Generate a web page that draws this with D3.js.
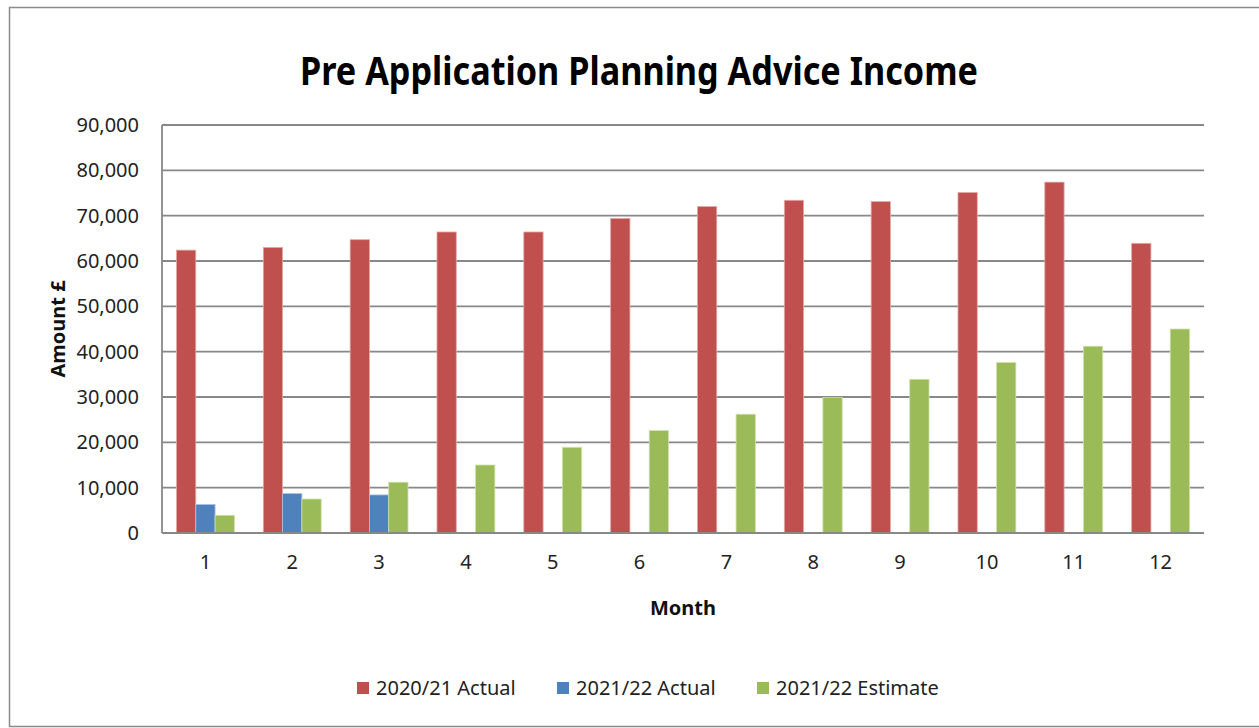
<!DOCTYPE html>
<html>
<head>
<meta charset="utf-8">
<script src="https://cdn.jsdelivr.net/npm/d3@7"></script>
<style>
  body { margin: 0; background: #fff; }
  svg { display: block; font-family: "Noto Sans", "Open Sans", sans-serif; }
</style>
</head>
<body>
<div id="chart"></div>
<script>
"use strict";

// chart values
const months = ["1", "2", "3", "4", "5", "6", "7", "8", "9", "10", "11", "12"];
const seriesNames = ["2020/21 Actual", "2021/22 Actual", "2021/22 Estimate"];
const actual2021 = [62400, 63000, 64700, 66400, 66400, 69400, 72000, 73400, 73100, 75100, 77400, 63900];
const actual2122 = [6300, 8700, 8400, null, null, null, null, null, null, null, null, null];
const estimate2122 = [3900, 7500, 11200, 15000, 18900, 22600, 26200, 29900, 33900, 37600, 41200, 45000];
const yTicks = [0, 10000, 20000, 30000, 40000, 50000, 60000, 70000, 80000, 90000];
const colors = ["#C0504D", "#4F81BD", "#9BBB59"];
const strokes = ["#e3a9a7", "#a9c3e3", "#cfe0ad"];

const msm = {
    width: 1259,
    height: 728,
    plotLeft: 162,
    plotRight: 1204,
    plotTop: 125,
    plotBottom: 533
}

window.onload = function () {
    let svg = d3.select("#chart")
        .append("svg")
        .attr("width", msm.width)
        .attr("height", msm.height);

    // outer chart frame
    svg.append("rect")
        .attr("x", 9.5)
        .attr("y", 7.5)
        .attr("width", 1300)
        .attr("height", 719)
        .attr("fill", "none")
        .attr("stroke", "#8a8a8a")
        .attr("stroke-width", 1.5);

    // title
    svg.append("text")
        .attr("x", 639)
        .attr("y", 85)
        .attr("text-anchor", "middle")
        .attr("textLength", 678)
        .attr("lengthAdjust", "spacingAndGlyphs")
        .style("font-size", "39px")
        .style("font-weight", "bold")
        .attr("fill", "#000")
        .text("Pre Application Planning Advice Income");

    let rows = months.map((m, i) => ({
        month: m,
        values: [actual2021[i], actual2122[i], estimate2122[i]]
    }));

    // scales
    let x0 = d3.scaleBand()
        .domain(months)
        .range([msm.plotLeft, msm.plotRight])
        .padding(0);

    let bw = x0.bandwidth();
    let gap = bw * 1.5 / 4.5; // excel gap width 150%
    let x1 = d3.scaleBand()
        .domain(d3.range(seriesNames.length))
        .range([gap / 2, bw - gap / 2])
        .padding(0);

    let y = d3.scaleLinear()
        .domain([0, 90000])
        .range([msm.plotBottom, msm.plotTop]);

    // gridlines
    svg.append("g")
        .selectAll("line")
        .data(yTicks)
        .enter()
        .append("line")
        .attr("x1", msm.plotLeft)
        .attr("x2", msm.plotRight)
        .attr("y1", d => y(d))
        .attr("y2", d => y(d))
        .attr("stroke", "#888")
        .attr("stroke-width", 1.8);

    // left axis line
    svg.append("line")
        .attr("x1", msm.plotLeft)
        .attr("x2", msm.plotLeft)
        .attr("y1", msm.plotTop)
        .attr("y2", msm.plotBottom)
        .attr("stroke", "#888")
        .attr("stroke-width", 1.8);

    // bars
    let groups = svg.append("g")
        .selectAll("g")
        .data(rows)
        .enter()
        .append("g")
        .attr("transform", d => "translate(" + x0(d.month) + ",0)");

    groups.selectAll("rect")
        .data(d => d.values.map((v, k) => ({ k: k, v: v })).filter(e => e.v != null))
        .enter()
        .append("rect")
        .attr("x", d => x1(d.k))
        .attr("y", d => y(d.v))
        .attr("width", x1.bandwidth())
        .attr("height", d => y(0) - y(d.v))
        .attr("fill", d => colors[d.k])
        .attr("stroke", d => strokes[d.k])
        .attr("stroke-width", 0.8);

    // redraw base line on top of bars
    svg.append("line")
        .attr("x1", msm.plotLeft)
        .attr("x2", msm.plotRight)
        .attr("y1", y(0))
        .attr("y2", y(0))
        .attr("stroke", "#888")
        .attr("stroke-width", 1.8);

    // y axis labels
    let yAxis = d3.axisLeft(y)
        .tickValues(yTicks)
        .tickSize(0)
        .tickPadding(23)
        .tickFormat(d3.format(","));
    let yg = svg.append("g")
        .attr("transform", "translate(" + msm.plotLeft + ",0)")
        .call(yAxis);
    yg.select(".domain").remove();
    yg.selectAll("text")
        .style("font-family", "'Noto Sans', sans-serif")
        .style("font-size", "20px")
        .attr("fill", "#222");

    // x axis labels
    let xAxis = d3.axisBottom(x0)
        .tickSize(0)
        .tickPadding(22);
    let xg = svg.append("g")
        .attr("transform", "translate(0," + msm.plotBottom + ")")
        .call(xAxis);
    xg.select(".domain").remove();
    xg.selectAll("text")
        .style("font-family", "'Noto Sans', sans-serif")
        .style("font-size", "20px")
        .attr("fill", "#222");

    // axis titles
    svg.append("text")
        .attr("x", (msm.plotLeft + msm.plotRight) / 2)
        .attr("y", 615)
        .attr("text-anchor", "middle")
        .style("font-size", "20px")
        .style("font-weight", "bold")
        .attr("fill", "#111")
        .text("Month");

    svg.append("text")
        .attr("transform", "translate(65," + ((msm.plotTop + msm.plotBottom) / 2) + ") rotate(-90)")
        .attr("text-anchor", "middle")
        .style("font-size", "20px")
        .style("font-weight", "bold")
        .attr("fill", "#111")
        .text("Amount £");

    // legend
    let legendX = [357, 557, 757];
    let legend = svg.append("g")
        .selectAll("g")
        .data(seriesNames)
        .enter()
        .append("g")
        .attr("transform", (d, i) => "translate(" + legendX[i] + ",688)");

    legend.append("rect")
        .attr("x", 0)
        .attr("y", -6)
        .attr("width", 12)
        .attr("height", 12)
        .attr("fill", (d, i) => colors[i]);

    legend.append("text")
        .attr("x", 19)
        .attr("y", 7)
        .style("font-size", "20px")
        .attr("fill", "#222")
        .text(d => d);
}
</script>
</body>
</html>
